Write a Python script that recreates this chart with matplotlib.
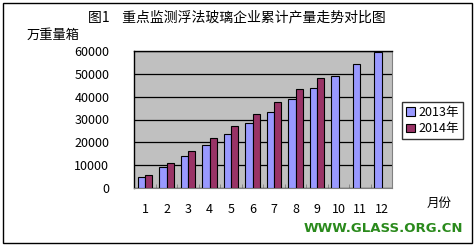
import matplotlib
matplotlib.use("Agg")
import matplotlib.pyplot as plt
from matplotlib.patches import Rectangle
import numpy as np

plt.rcParams['font.family'] = ['Noto Sans CJK SC', 'DejaVu Sans']

months = ['1', '2', '3', '4', '5', '6', '7', '8', '9', '10', '11', '12']
s2013 = [4700, 9100, 13800, 18600, 23500, 28300, 33300, 38900, 43700, 49000, 54200, 59500]
s2014 = [5400, 10700, 16000, 21700, 27000, 32300, 37700, 43300, 48100]
yticks = [0, 10000, 20000, 30000, 40000, 50000, 60000]
title = '图1    重点监测浮法玻璃企业累计产量走势对比图'
ylabel = '万重量箱'
xlabel = '月份'
legend_labels = ['2013年', '2014年']
watermark = 'WWW.GLASS.ORG.CN'

W, H = 476, 250
fig = plt.figure(figsize=(W / 100, H / 100), dpi=100)
fig.patch.set_facecolor('white')

# outer border
fig.add_artist(Rectangle((3 / W, 1 - 243 / H), (472 - 3) / W, (243 - 3) / H,
                         transform=fig.transFigure, fill=False, edgecolor='black', lw=1))

ax = fig.add_axes([134.3 / W, 1 - 187.7 / H, (392.3 - 134.3) / W, (187.7 - 51.3) / H])
ax.set_facecolor('#C0C0C0')

x = np.arange(len(months))
bw = 0.33
ax.bar(x[:len(s2013)] - bw / 2, s2013, width=bw, color='#9999FF', edgecolor='black', lw=0.8,
       label=legend_labels[0], zorder=3)
ax.bar(x[:len(s2014)] + bw / 2, s2014, width=bw, color='#993366', edgecolor='black', lw=0.8,
       label=legend_labels[1], zorder=3)

ax.set_xlim(-0.5, len(months) - 0.5)
ax.set_ylim(0, 60000)
ax.set_yticks(yticks)
ax.set_yticklabels([str(v) for v in yticks], fontsize=9)
ax.yaxis.grid(True, color='black', lw=0.9, zorder=1)
ax.set_axisbelow(True)
ax.tick_params(axis='y', length=0, pad=18)
ax.set_xticks(x)
ax.set_xticklabels(months, fontsize=9)
ax.tick_params(axis='x', length=0, pad=11)
ax.set_xticks(np.arange(len(months) + 1) - 0.5, minor=True)
ax.tick_params(axis='x', which='minor', length=3, color='#808080', direction='in')
for s in ['left', 'top']:
    ax.spines[s].set_color('black')
    ax.spines[s].set_linewidth(1)
ax.spines['right'].set_color('#808080')
ax.spines['bottom'].set_color('#808080')

fig.text(237 / W, 1 - 17 / H, title, ha='center', va='center', fontsize=10)
fig.text(27 / W, 1 - 35 / H, ylabel, ha='left', va='center', fontsize=9.5)
fig.text(439 / W, 1 - 203 / H, xlabel, ha='center', va='center', fontsize=9)
fig.text(383 / W, 1 - 228 / H, watermark, ha='center', va='center', fontsize=9.5,
         fontweight='bold', color='#2A8A1C', family='DejaVu Sans')

leg = fig.legend(loc='upper left', bbox_to_anchor=(402 / W, 1 - 102 / H), fontsize=9,
                 frameon=True, fancybox=False, edgecolor='black', handlelength=0.7,
                 handleheight=0.7, handletextpad=0.3, borderpad=0.3, labelspacing=0.3,
                 borderaxespad=0)
leg.get_frame().set_linewidth(1)

fig.savefig('out.png', dpi=100)
